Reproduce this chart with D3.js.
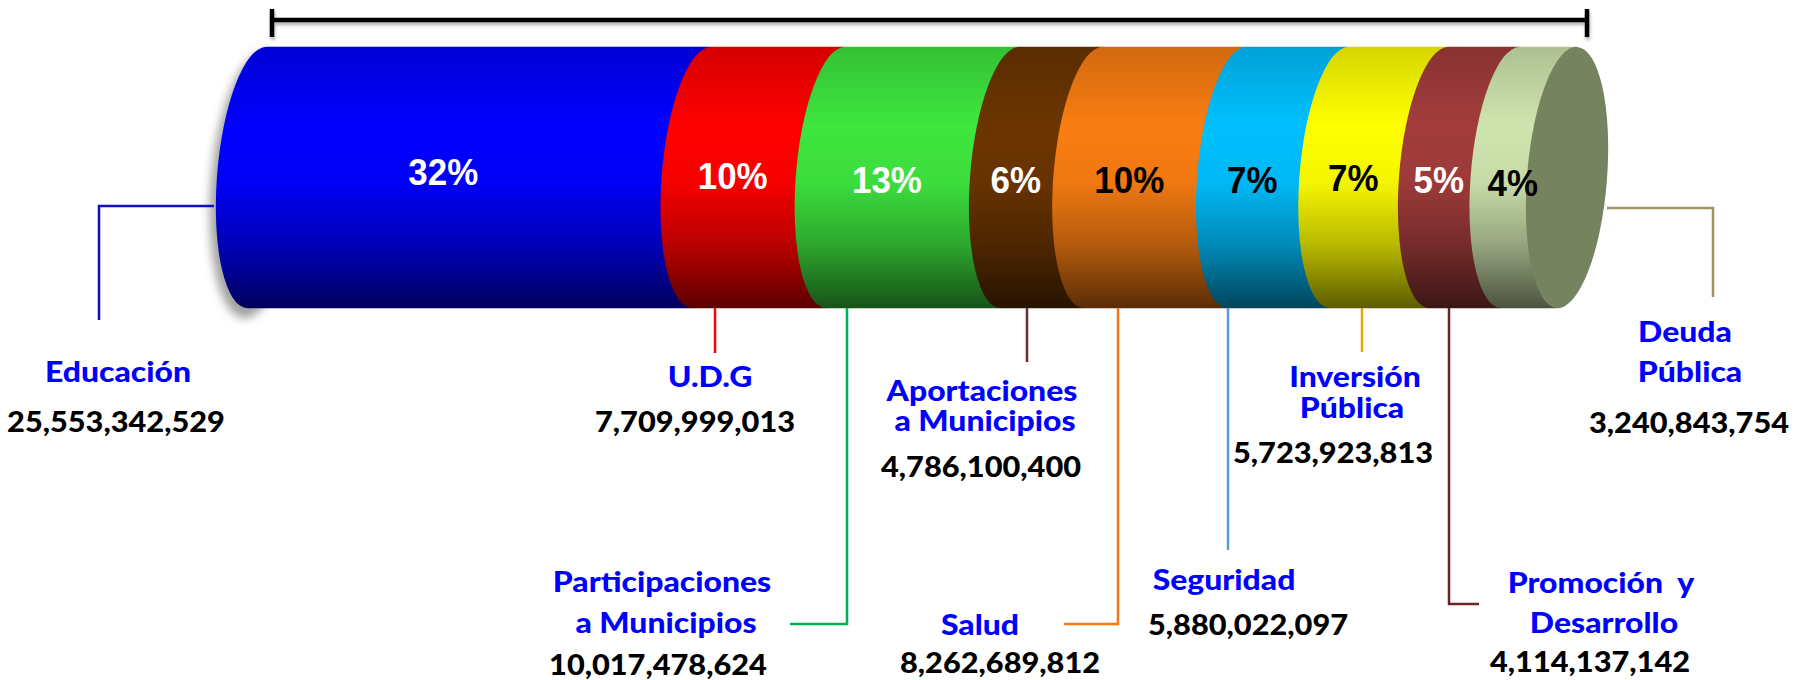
<!DOCTYPE html>
<html><head><meta charset="utf-8">
<script src="https://cdn.jsdelivr.net/npm/d3@7"></script>
<style>body{margin:0;background:#fff;} svg{display:block;}</style>
</head><body><svg id="chart" width="1802" height="680"></svg>
<script>
// ---------------- data ----------------
const categories = ["Educación","U.D.G","Participaciones a Municipios","Aportaciones a Municipios","Salud","Seguridad","Inversión Pública","Promoción y Desarrollo","Deuda Pública"];
const nameLines = [["Educación"],["U.D.G"],["Participaciones","a Municipios"],["Aportaciones","a Municipios"],["Salud"],["Seguridad"],["Inversión","Pública"],["Promoción  y","Desarrollo"],["Deuda","Pública"]];
const values = [25553342529, 7709999013, 10017478624, 4786100400, 8262689812, 5880022097, 5723923813, 4114137142, 3240843754];
const percents = [32, 10, 13, 6, 10, 7, 7, 5, 4];
const segmentColors = ["#0000ff","#ff0000","#3ee63e","#6b3500","#f97d12","#00c0ff","#ffff00","#a33c3c","#cfe4ae"];
const percentTextColors = ["#fff","#fff","#fff","#fff","#000","#000","#000","#fff","#000"];
const leaderColors = ["#1010c8","#ff0000","#00b050","#6e2c2c","#ee7a1a","#5b9bd5","#dca900","#6b2424","#9c9463"];
const capFaceColor = "#76835f";

// ---------------- layout (annotation positions) ----------------
const pctBaseline = [185,189,193,193,193,193,191,193,196];
const leaderPts = [
  [[214,206],[99,206],[99,320]],
  [[715,308],[715,353]],
  [[847,308],[847,624],[790,624]],
  [[1027,308],[1027,362]],
  [[1118,308],[1118,624],[1064,624]],
  [[1228,308],[1228,550]],
  [[1362,308],[1362,352]],
  [[1449,308],[1449,604],[1479,604]],
  [[1607,208],[1713,208],[1713,297]]
];
const namePos = [
  [[118,382]],
  [[710,387]],
  [[662,592],[666,633]],
  [[982,401],[985,431]],
  [[980,635]],
  [[1224,590]],
  [[1355,387],[1352,418]],
  [[1601,593],[1604,633]],
  [[1685,342],[1690,382]]
];
const numberPos = [[116,432],[695,432],[658,675],[981,477],[1000,673],[1248,635],[1333,463],[1590,672],[1689,433]];

// ---------------- drawing ----------------
const svg = d3.select("#chart");
const defs = svg.append("defs");
defs.append("filter").attr("id","blur").attr("x","-50%").attr("y","-50%").attr("width","200%").attr("height","200%")
  .append("feGaussianBlur").attr("stdDeviation",5);
defs.append("filter").attr("id","blur2").attr("x","-10%").attr("y","-200%").attr("width","120%").attr("height","500%")
  .append("feGaussianBlur").attr("stdDeviation",1.5);

const total = d3.sum(values);
const x = d3.scaleLinear().domain([0,total]).range([257,1567]);
const ends = Array.from(d3.cumsum(values));
const starts = ends.map((e,i)=>e-values[i]);

const cy = 177.5, A = 131, B = 40, rot = 4.5;
const th = rot*Math.PI/180;
const H = Math.sqrt(B*B*Math.sin(th)**2 + A*A*Math.cos(th)**2);
const dx = (A*A-B*B)*Math.sin(th)*Math.cos(th)/H;
const yTop = cy-H, yBot = cy+H;

// gradients
const stops = [[0,0.84],[0.3,1],[0.52,0.96],[0.76,0.72],[1,0.36]];
segmentColors.forEach((c,i)=>{
  const g = defs.append("linearGradient").attr("id","g"+i)
    .attr("gradientUnits","userSpaceOnUse").attr("x1",0).attr("x2",0).attr("y1",yTop).attr("y2",yBot);
  const base = d3.rgb(c);
  stops.forEach(([o,f])=>{
    g.append("stop").attr("offset",o).attr("stop-color", d3.rgb(base.r*f, base.g*f, base.b*f).formatHex());
  });
});

// shadow of left end
svg.append("ellipse")
  .attr("cx", x(0)-3).attr("cy", cy+8).attr("rx", B+3).attr("ry", A+2)
  .attr("transform", `rotate(${rot},${x(0)-3},${cy+8})`)
  .attr("fill","#555").attr("opacity",0.55).attr("filter","url(#blur)");

// bracket
const bl = x(0)+15, br = x(total)+20;
const bracketPath = `M${bl},9V37M${bl},20H${br}M${br},9V37`;
svg.append("path").attr("d",bracketPath).attr("transform","translate(1,3)")
  .attr("fill","none").attr("stroke","#888").attr("stroke-width",4.5).attr("opacity",0.6).attr("filter","url(#blur2)");
svg.append("path").attr("d",bracketPath).attr("fill","none").attr("stroke","#000").attr("stroke-width",4.5);

// segments
const segs = svg.append("g");
values.forEach((v,i)=>{
  const c0 = x(starts[i]), c1 = x(ends[i]);
  const d = `M${c0+dx},${yTop}L${c1+dx},${yTop}L${c1-dx},${yBot}L${c0-dx},${yBot}A${B},${A} ${rot} 0 1 ${c0+dx},${yTop}Z`;
  segs.append("path").attr("d",d).attr("fill",`url(#g${i})`);
});
// right cap face
const ce = x(total);
segs.append("ellipse").attr("cx",ce).attr("cy",cy).attr("rx",B).attr("ry",A)
  .attr("transform",`rotate(${rot},${ce},${cy})`).attr("fill",capFaceColor);

// percent labels
const pctG = svg.append("g").attr("font-family","'Liberation Sans', Arial, sans-serif").attr("font-weight","bold").attr("font-size",36).attr("text-anchor","middle");
percents.forEach((p,i)=>{
  const mid = (x(starts[i])+x(ends[i]))/2 - 36 + (i===percents.length-1 ? 10 : 0);
  pctG.append("text").attr("transform",`translate(${mid},${pctBaseline[i]}) scale(0.97,1.05)`).attr("fill",percentTextColors[i]).text(p+"%");
});

// leader lines
const line = d3.line();
leaderPts.forEach((pts,i)=>{
  svg.append("path").attr("d",line(pts)).attr("fill","none").attr("stroke",leaderColors[i]).attr("stroke-width",2.5);
});

// category names and values
const fmt = d3.format(",");
const nameSX = 1.16, numSX = 1.06;
const lab = svg.append("g").attr("font-family","Lato, 'Open Sans', sans-serif").attr("font-weight",900).attr("text-anchor","middle");
nameLines.forEach((lines,i)=>{
  lines.forEach((t,j)=>{
    const [px,py] = namePos[i][j];
    lab.append("text").attr("transform",`translate(${px},${py}) scale(${nameSX},1)`)
      .attr("font-size",27.5).attr("fill","#0000ff").style("white-space","pre").text(t);
  });
  const [nx,ny] = numberPos[i];
  lab.append("text").attr("transform",`translate(${nx},${ny}) scale(${numSX},1)`)
    .attr("font-size",29).attr("fill","#000").text(fmt(values[i]));
});
</script></body></html>
